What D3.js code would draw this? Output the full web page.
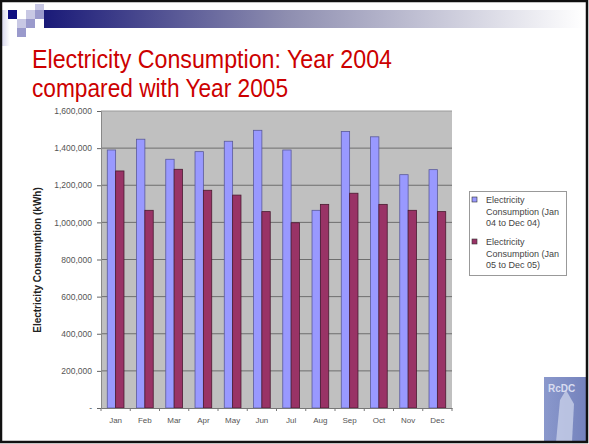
<!DOCTYPE html>
<html>
<head>
<meta charset="utf-8">
<script src="https://cdn.jsdelivr.net/npm/d3@7"></script>
<style>
  body { margin: 0; background: #fff; }
  svg { display: block; }
</style>
</head>
<body>
<svg width="589" height="444"></svg>
<script>
// Chart data
const months = ["Jan", "Feb", "Mar", "Apr", "May", "Jun", "Jul", "Aug", "Sep", "Oct", "Nov", "Dec"];
const series = ["Electricity Consumption (Jan 04 to Dec 04)", "Electricity Consumption (Jan 05 to Dec 05)"];
const values2004 = [1390000, 1448000, 1340000, 1381000, 1437000, 1496000, 1390000, 1065000, 1490000, 1461000, 1257000, 1284000];
const values2005 = [1277000, 1065000, 1286000, 1173000, 1147000, 1058000, 998000, 1097000, 1157000, 1097000, 1065000, 1058000];
const yTicks = [0, 200000, 400000, 600000, 800000, 1000000, 1200000, 1400000, 1600000];
const legendLines = [["Electricity", "Consumption (Jan", "04 to Dec 04)"], ["Electricity", "Consumption (Jan", "05 to Dec 05)"]];
const titleLines = ["Electricity Consumption: Year 2004", "compared with Year 2005"];

const svg = d3.select("svg");

// Slide decoration: gradient header bar
const defs = svg.append("defs");
const grad = defs.append("linearGradient").attr("id", "hdr");
grad.append("stop").attr("offset", "0%").attr("stop-color", "#1a1a78");
grad.append("stop").attr("offset", "45%").attr("stop-color", "#8e8eb0");
grad.append("stop").attr("offset", "100%").attr("stop-color", "#ffffff");
svg.append("rect").attr("x", 44).attr("y", 10).attr("width", 540).attr("height", 18).attr("fill", "url(#hdr)");

const side = defs.append("linearGradient").attr("id", "side");
side.append("stop").attr("offset", "0%").attr("stop-color", "#d8d8ee");
side.append("stop").attr("offset", "100%").attr("stop-color", "#ffffff");
svg.append("rect").attr("x", 2).attr("y", 10).attr("width", 8).attr("height", 36).attr("fill", "url(#side)");

// Little squares in the corner
const squares = [
  [35, 4, "#c8c8e4"], [8, 10, "#0d0d80"], [26, 10, "#c8c8e4"], [35, 10, "#9a9acc"],
  [17, 19, "#c8c8e4"], [26, 19, "#9a9acc"], [17, 28, "#9a9acc"]
];
svg.selectAll(".sq").data(squares).enter().append("rect")
  .attr("x", d => d[0]).attr("y", d => d[1]).attr("width", 9).attr("height", 9)
  .attr("fill", d => d[2]);

// Title (narrow font squeezed to the slide's width)
svg.selectAll(".title").data(titleLines).enter().append("text")
  .attr("class", "title")
  .attr("x", 32).attr("y", (d, i) => 68 + i * 29)
  .attr("textLength", (d, i) => i === 0 ? 360 : 256)
  .attr("lengthAdjust", "spacingAndGlyphs")
  .style("font-family", "'Liberation Sans Narrow', 'Arial Narrow', 'Liberation Sans', sans-serif")
  .style("font-size", "26px")
  .attr("fill", "#cc0000")
  .text(d => d);

// Plot area
const plot = { left: 101, right: 452, top: 111, bottom: 408 };

const y = d3.scaleLinear().domain([0, 1600000]).range([plot.bottom, plot.top]);
const x0 = d3.scaleBand().domain(months).range([plot.left, plot.right]);
const bw = x0.bandwidth();
const barW = bw / 3.5;
const x1 = d3.scaleBand().domain(series).range([barW * 0.75, barW * 2.75]);

svg.append("rect")
  .attr("x", plot.left).attr("y", plot.top)
  .attr("width", plot.right - plot.left).attr("height", plot.bottom - plot.top)
  .attr("fill", "#c0c0c0");

// Gridlines
svg.selectAll(".grid").data(yTicks.slice(1)).enter().append("line")
  .attr("x1", plot.left).attr("x2", plot.right)
  .attr("y1", d => y(d)).attr("y2", d => y(d))
  .attr("stroke", d => d === 1600000 ? "#9a9a9a" : "#6e6e6e")
  .attr("stroke-width", 1);

// Bars
const color = d3.scaleOrdinal().domain(series).range(["#9999ff", "#993366"]);
const rows = months.map((m, i) => ({ month: m, vals: [values2004[i], values2005[i]] }));

svg.selectAll(".grp").data(rows).enter().append("g")
  .attr("transform", d => `translate(${x0(d.month)},0)`)
  .selectAll("rect")
  .data(d => d.vals.map((v, j) => ({ key: series[j], value: v })))
  .enter().append("rect")
  .attr("x", d => x1(d.key))
  .attr("y", d => y(d.value))
  .attr("width", x1.bandwidth())
  .attr("height", d => plot.bottom - y(d.value))
  .attr("fill", d => color(d.key))
  .attr("stroke", d => d.key === series[0] ? "#5a5a9a" : "#4a1a30")
  .attr("stroke-width", 0.8);

// Axes
const fmt = d => d === 0 ? "-" : d3.format(",")(d);
const yAxis = svg.append("g")
  .attr("transform", `translate(${plot.left},0)`)
  .call(d3.axisLeft(y).tickValues(yTicks).tickFormat(fmt).tickSize(4).tickPadding(5));
yAxis.select(".domain").attr("stroke", "#888");
yAxis.selectAll(".tick line").attr("stroke", "#666");
yAxis.selectAll("text")
  .style("font-family", "Arial, 'Liberation Sans', sans-serif")
  .style("font-size", "8.5px")
  .attr("fill", "#555");

const xAxis = svg.append("g")
  .attr("transform", `translate(0,${plot.bottom})`)
  .call(d3.axisBottom(x0).tickSize(0).tickPadding(9));
xAxis.select(".domain").attr("stroke", "#777");
xAxis.selectAll("text")
  .style("font-family", "Arial, 'Liberation Sans', sans-serif")
  .style("font-size", "8px")
  .attr("fill", "#555");
// category boundary tick marks
svg.selectAll(".xtick").data(months.concat(["end"])).enter().append("line")
  .attr("x1", (d, i) => plot.left + i * bw).attr("x2", (d, i) => plot.left + i * bw)
  .attr("y1", plot.bottom).attr("y2", plot.bottom + 3)
  .attr("stroke", "#777");

// Y axis title
svg.append("text")
  .attr("transform", "translate(41,260) rotate(-90)")
  .attr("text-anchor", "middle")
  .style("font-family", "Arial, 'Liberation Sans', sans-serif")
  .style("font-size", "10px")
  .style("font-weight", "bold")
  .attr("fill", "#222")
  .text("Electricity Consumption (kWh)");

// Legend
svg.append("rect")
  .attr("x", 469.5).attr("y", 191.5).attr("width", 97).attr("height", 84)
  .attr("fill", "#fff").attr("stroke", "#999");

const lg = svg.selectAll(".lg").data(series).enter().append("g")
  .attr("transform", (d, i) => `translate(472,${203 + i * 42})`);
lg.append("rect")
  .attr("x", 0).attr("y", -6).attr("width", 5).attr("height", 5)
  .attr("fill", d => color(d)).attr("stroke", "#333").attr("stroke-width", 0.6);
lg.each(function (d, i) {
  const t = d3.select(this).append("text")
    .style("font-family", "Arial, 'Liberation Sans', sans-serif")
    .style("font-size", "9px")
    .attr("fill", "#444");
  legendLines[i].forEach((ln, k) => {
    t.append("tspan").attr("x", 14).attr("y", k * 11.5).text(ln);
  });
});

// Logo in the corner
const logo = defs.append("linearGradient").attr("id", "logo").attr("x1", 0).attr("x2", 1);
logo.append("stop").attr("offset", "0%").attr("stop-color", "#8a98cc");
logo.append("stop").attr("offset", "100%").attr("stop-color", "#7482bc");
svg.append("rect").attr("x", 544).attr("y", 377).attr("width", 43).attr("height", 65).attr("fill", "url(#logo)");
svg.append("path").attr("d", "M556,442 L560,400 L566,390 L574,404 L572,442 Z").attr("fill", "#c8d0e8").attr("opacity", 0.8);
svg.append("text").attr("x", 548).attr("y", 392)
  .style("font-family", "Arial, sans-serif").style("font-size", "10px").style("font-weight", "bold")
  .attr("fill", "#d8dcf0").text("RcDC");

// Slide frame
svg.append("rect").attr("x", 1).attr("y", 1).attr("width", 586).attr("height", 441)
  .attr("fill", "none").attr("stroke", "#111").attr("stroke-width", 2.5);
</script>
</body>
</html>
